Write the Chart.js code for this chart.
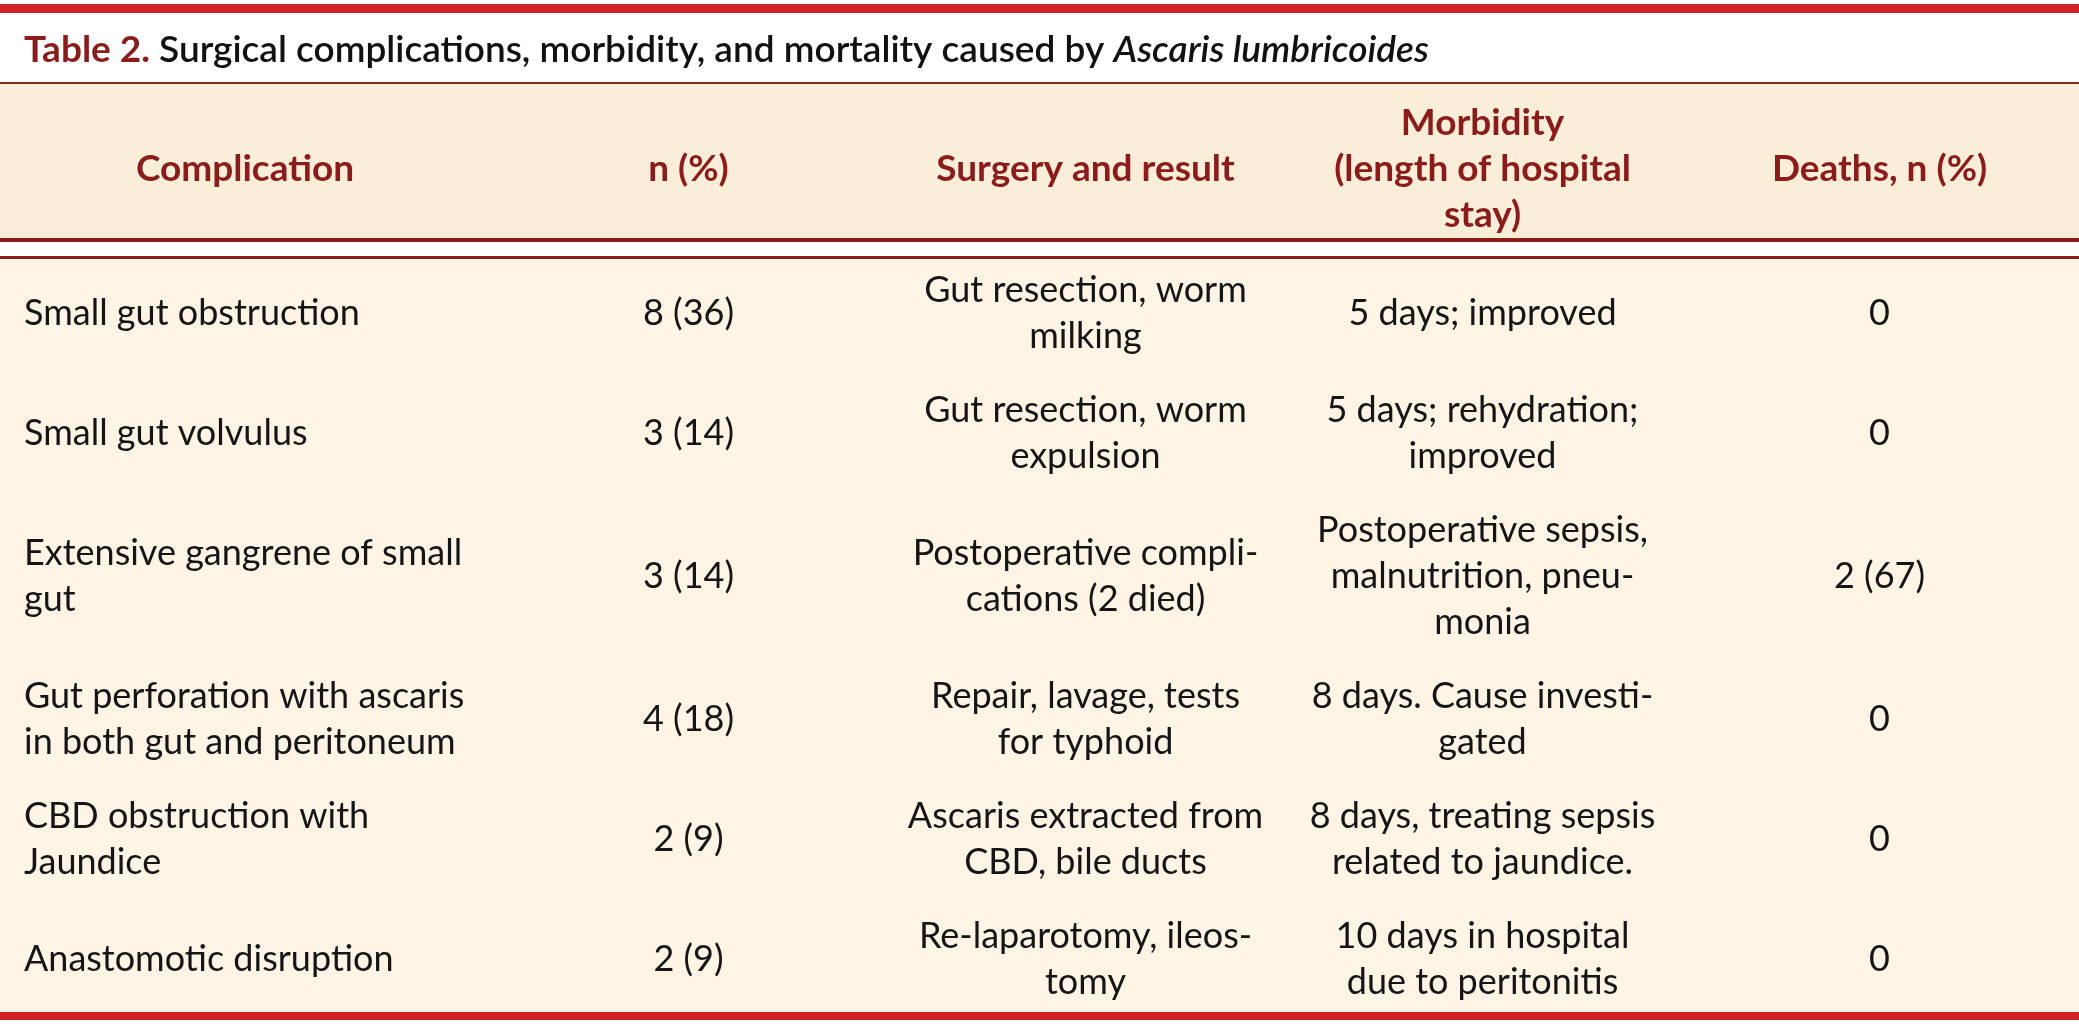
<!DOCTYPE html>
<html>
<head>
<meta charset="utf-8">
<script src="https://cdn.jsdelivr.net/npm/chart.js@4"></script>
<style>
  html, body { margin: 0; padding: 0; background: #fff; }
  #wrap { position: relative; width: 2079px; height: 1034px; }
</style>
</head>
<body>
<div id="wrap"><canvas id="tableChart"></canvas></div>
<script>
// table contents
const titleParts = ['Table 2. ', 'Surgical complications, morbidity, and mortality caused by ', 'Ascaris lumbricoides'];
const headers = [
  ['Complication'],
  ['n (%)'],
  ['Surgery and result'],
  ['Morbidity', '(length of hospital', 'stay)'],
  ['Deaths, n (%)']
];
const complications = [
  ['Small gut obstruction'],
  ['Small gut volvulus'],
  ['Extensive gangrene of small', 'gut'],
  ['Gut perforation with ascaris', 'in both gut and peritoneum'],
  ['CBD obstruction with', 'Jaundice'],
  ['Anastomotic disruption']
];
const cases = [8, 3, 3, 4, 2, 2];
const casePct = [36, 14, 14, 18, 9, 9];
const surgery = [
  ['Gut resection, worm', 'milking'],
  ['Gut resection, worm', 'expulsion'],
  ['Postoperative compli-', 'cations (2 died)'],
  ['Repair, lavage, tests', 'for typhoid'],
  ['Ascaris extracted from', 'CBD, bile ducts'],
  ['Re-laparotomy, ileos-', 'tomy']
];
const morbidity = [
  ['5 days; improved'],
  ['5 days; rehydration;', 'improved'],
  ['Postoperative sepsis,', 'malnutrition, pneu-', 'monia'],
  ['8 days. Cause investi-', 'gated'],
  ['8 days, treating sepsis', 'related to jaundice.'],
  ['10 days in hospital', 'due to peritonitis']
];
const deaths = [0, 0, 2, 0, 0, 0];
const deathPct = [null, null, 67, null, null, null];

// cells per column, each cell is a list of lines
const columns = [
  complications,
  cases.map((n, i) => [n + ' (' + casePct[i] + ')']),
  surgery,
  morbidity,
  deaths.map((n, i) => [deathPct[i] == null ? String(n) : n + ' (' + deathPct[i] + ')'])
];

// row heights in text-line units
const rowGap = 0.63;
const edgeTrim = 0.145;
const rowLines = complications.map((_, r) => Math.max(...columns.map(col => col[r].length)));
const rowCenters = [];
let acc = 0;
rowLines.forEach(n => { rowCenters.push(acc + (n + rowGap) / 2); acc += n + rowGap; });
const totalUnits = acc;

const FONT = 'Lato';
const RED = '#d2232a';
const DARK_RED = '#8a1c1c';
const HEAD_BG = '#fbeed9';
const BODY_BG = '#fdf4e5';
const BODY_CAP = 12.5;

function bandOf(chart, c) {
  const x = chart.scales.x;
  const left = c === 0 ? 0 : x.getPixelForValue(c - 0.5);
  return [left, x.getPixelForValue(c + 0.5)];
}

const tableFrame = {
  id: 'tableFrame',
  beforeDraw(chart) {
    const ctx = chart.ctx;
    const W = chart.width;
    const top = chart.chartArea.top;
    const bottom = chart.chartArea.bottom;
    ctx.save();
    ctx.fillStyle = '#fff';
    ctx.fillRect(0, 0, W, chart.height);
    ctx.fillStyle = RED;
    ctx.fillRect(0, 4, W, 9);
    // title
    ctx.textBaseline = 'alphabetic';
    ctx.textAlign = 'left';
    let tx = 24;
    const fonts = ['bold 37px ' + FONT, '600 37px ' + FONT, 'italic 600 37px ' + FONT];
    const colors = [DARK_RED, '#111', '#111'];
    titleParts.forEach((t, i) => {
      ctx.font = fonts[i];
      ctx.fillStyle = colors[i];
      ctx.fillText(t, tx, 62);
      tx += ctx.measureText(t).width;
    });
    ctx.fillStyle = '#8b2c22';
    ctx.fillRect(0, 82, W, 2);
    ctx.fillStyle = HEAD_BG;
    ctx.fillRect(0, 84, W, top - 21 - 84);
    ctx.fillStyle = DARK_RED;
    ctx.fillRect(0, top - 21, W, 4);
    ctx.fillRect(0, top - 3, W, 3.5);
    ctx.fillStyle = BODY_BG;
    ctx.fillRect(0, top, W, bottom - top);
    ctx.fillStyle = RED;
    ctx.fillRect(0, bottom, W, 8);
    // header cells
    ctx.font = 'bold 37px ' + FONT;
    ctx.fillStyle = DARK_RED;
    ctx.textAlign = 'center';
    headers.forEach((lines, c) => {
      const [l, r] = bandOf(chart, c);
      lines.forEach((s, k) => {
        ctx.fillText(s, (l + r) / 2, 168 + BODY_CAP + (k - (lines.length - 1) / 2) * 46);
      });
    });
    ctx.restore();
  },
  afterDatasetsDraw(chart) {
    const ctx = chart.ctx;
    const y = chart.scales.y;
    ctx.save();
    ctx.font = '36px ' + FONT;
    ctx.fillStyle = '#151515';
    ctx.textBaseline = 'alphabetic';
    chart.data.datasets.forEach((ds, c) => {
      const meta = chart.getDatasetMeta(c);
      const [l] = bandOf(chart, c);
      meta.data.forEach((pt, r) => {
        const lines = columns[c][r];
        lines.forEach((s, k) => {
          const py = y.getPixelForValue(rowCenters[r] + k - (lines.length - 1) / 2) + BODY_CAP;
          if (c === 0) { ctx.textAlign = 'left'; ctx.fillText(s, l + 24, py); }
          else { ctx.textAlign = 'center'; ctx.fillText(s, pt.x, py); }
        });
      });
    });
    ctx.restore();
  }
};

new Chart(document.getElementById('tableChart'), {
  type: 'scatter',
  data: {
    datasets: columns.map((col, c) => ({
      label: headers[c].join(' '),
      data: col.map((_, r) => ({ x: c, y: rowCenters[r] })),
      pointRadius: 0,
      pointHoverRadius: 0
    }))
  },
  options: {
    responsive: true,
    maintainAspectRatio: false,
    animation: false,
    events: [],
    layout: { padding: { left: 93, right: 1, top: 259, bottom: 22 } },
    plugins: { legend: { display: false }, tooltip: { enabled: false } },
    scales: {
      x: { type: 'linear', min: -0.5, max: columns.length - 0.5, display: false },
      y: { type: 'linear', reverse: true, min: edgeTrim, max: totalUnits - edgeTrim, display: false }
    }
  },
  plugins: [tableFrame]
});
</script>
</body>
</html>
